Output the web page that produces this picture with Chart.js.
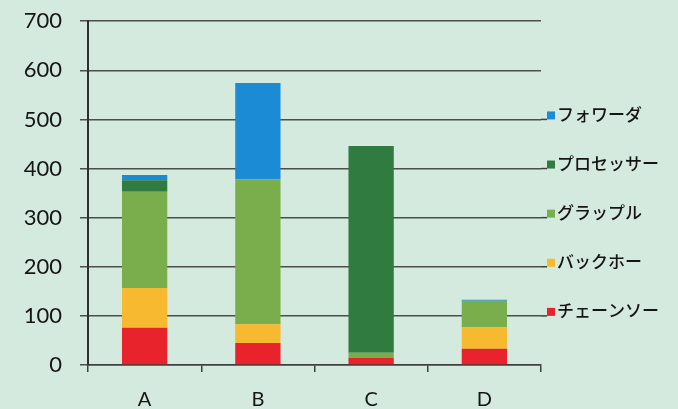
<!DOCTYPE html>
<html>
<head>
<meta charset="utf-8">
<script src="https://cdn.jsdelivr.net/npm/chart.js@4/dist/chart.umd.min.js"></script>
<style>
  html, body { margin: 0; padding: 0; background: #d5eadf; overflow: hidden; }
  #wrap { width: 678px; height: 419px; margin-top: -10px; }
</style>
</head>
<body>
<div id="wrap"><canvas id="machine-chart"></canvas></div>
<script>
// Chart data
const categories = ["A", "B", "C", "D"];
const chainsaw = [76, 45, 15, 33];
const backhoe = [81, 38, 0, 44];
const grapple = [196, 295, 10, 54];
const processor = [23, 0, 421, 0];
const forwarder = [11, 196, 0, 2];
const yTicks = [0, 100, 200, 300, 400, 500, 600, 700];

const seriesNames = ["チェーンソー", "バックホー", "グラップル", "プロセッサー", "フォワーダ"];
const seriesColors = ["#e8232b", "#f6b92f", "#7aad4c", "#2f7b40", "#1b8bd5"];
const seriesValues = [chainsaw, backhoe, grapple, processor, forwarder];

const jpFont = "'Noto Sans CJK JP', sans-serif";
const numFont = "Lato, 'Open Sans', sans-serif";

// legend drawn next to the gridlines on the right
const sideLegend = {
  id: "sideLegend",
  afterDraw(chart) {
    const ctx = chart.ctx;
    const y = chart.scales.y;
    const left = chart.chartArea.right;
    ctx.save();
    chart.data.datasets.forEach((ds, i) => {
      const py = y.getPixelForValue(100 * (i + 1));
      ctx.strokeStyle = "#3c403e";
      ctx.lineWidth = 1.5;
      ctx.beginPath();
      ctx.moveTo(left, py);
      ctx.lineTo(left + 6, py);
      ctx.stroke();
      ctx.fillStyle = ds.backgroundColor;
      ctx.fillRect(left + 6, py - 8, 8, 8);
      ctx.fillStyle = "#151515";
      ctx.font = "500 17px " + jpFont;
      ctx.textBaseline = "middle";
      ctx.fillText(ds.label, left + 16, py - 5);
    });
    ctx.restore();
  },
};

const ctx = document.getElementById("machine-chart").getContext("2d");
new Chart(ctx, {
  type: "bar",
  data: {
    labels: categories,
    datasets: seriesNames.map((name, i) => ({
      label: name,
      data: seriesValues[i],
      backgroundColor: seriesColors[i],
      categoryPercentage: 0.8,
      barPercentage: 0.5,
    })),
  },
  options: {
    responsive: true,
    maintainAspectRatio: false,
    animation: false,
    layout: { padding: { top: 0, right: 137, left: 0, bottom: 0 } },
    plugins: {
      legend: { display: false },
      tooltip: { enabled: false },
    },
    scales: {
      x: {
        stacked: true,
        grid: {
          display: true,
          drawOnChartArea: false,
          drawTicks: true,
          tickLength: 7,
          color: "#3c403e",
          lineWidth: 1.5,
        },
        border: { display: true, color: "#3c403e", width: 1.5 },
        ticks: {
          color: "#151515",
          font: { family: numFont, size: 20 },
          padding: 16,
        },
        afterFit(scale) {
          scale.height = 44;
        },
      },
      y: {
        stacked: true,
        min: 0,
        max: 700,
        afterBuildTicks(scale) {
          scale.ticks = yTicks.map((v) => ({ value: v }));
        },
        grid: {
          color: "#4a4f4c",
          lineWidth: 1.5,
          tickLength: 8,
        },
        border: { display: true, color: "#2c302e", width: 2 },
        ticks: {
          color: "#151515",
          font: { family: numFont, size: 22 },
          padding: 18,
        },
        afterFit(scale) {
          scale.width = 88;
        },
      },
    },
  },
  plugins: [sideLegend],
});
</script>
</body>
</html>
